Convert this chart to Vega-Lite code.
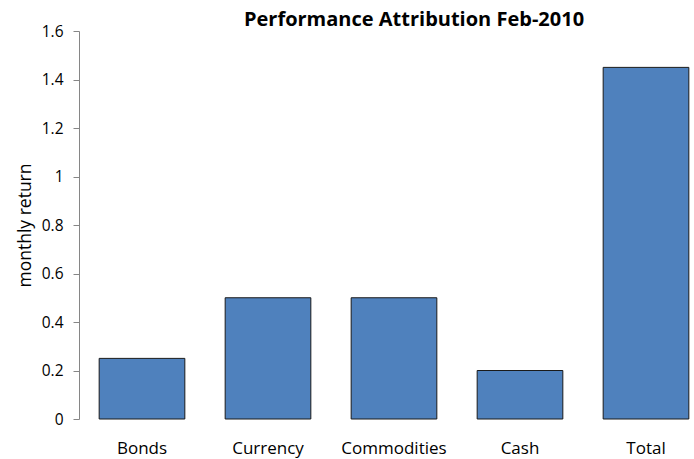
{
  "$schema": "https://vega.github.io/schema/vega-lite/v6.json",
  "autosize": "none",
  "padding": {"left": 79, "top": 31, "right": 0, "bottom": 40},
  "width": 630,
  "height": 388,
  "background": "white",
  "title": {
    "text": "Performance Attribution Feb-2010",
    "font": "Open Sans",
    "fontSize": 20,
    "fontWeight": "bold",
    "color": "#000000",
    "anchor": "middle",
    "dx": 20,
    "offset": -6
  },
  "config": {"view": {"stroke": null}},
  "data": {
    "values": [
      {"category": "Bonds", "value": 0.25},
      {"category": "Currency", "value": 0.5},
      {"category": "Commodities", "value": 0.5},
      {"category": "Cash", "value": 0.2},
      {"category": "Total", "value": 1.45}
    ]
  },
  "mark": {"type": "bar", "fill": "#4F81BD", "stroke": "#1a1a1a", "strokeWidth": 1},
  "encoding": {
    "x": {
      "field": "category",
      "type": "nominal",
      "sort": null,
      "scale": {"paddingInner": 0.32, "paddingOuter": 0.16},
      "axis": {
        "title": null,
        "labelAngle": 0,
        "labelFont": "Open Sans",
        "labelFontSize": 17,
        "labelColor": "#000000",
        "domain": false,
        "ticks": false,
        "labelPadding": 21
      }
    },
    "y": {
      "field": "value",
      "type": "quantitative",
      "scale": {"domain": [0, 1.6], "nice": false},
      "axis": {
        "title": "monthly return",
        "titleFont": "Open Sans",
        "titleFontSize": 17.5,
        "titleFontWeight": "normal",
        "titleColor": "#000000",
        "titlePadding": 7,
        "values": [0, 0.2, 0.4, 0.6, 0.8, 1, 1.2, 1.4, 1.6],
        "format": "~g",
        "labelFont": "Open Sans",
        "labelFontSize": 15.5,
        "labelColor": "#000000",
        "labelPadding": 10,
        "grid": false,
        "domainColor": "#868686",
        "tickColor": "#868686",
        "tickSize": 6
      }
    }
  }
}
